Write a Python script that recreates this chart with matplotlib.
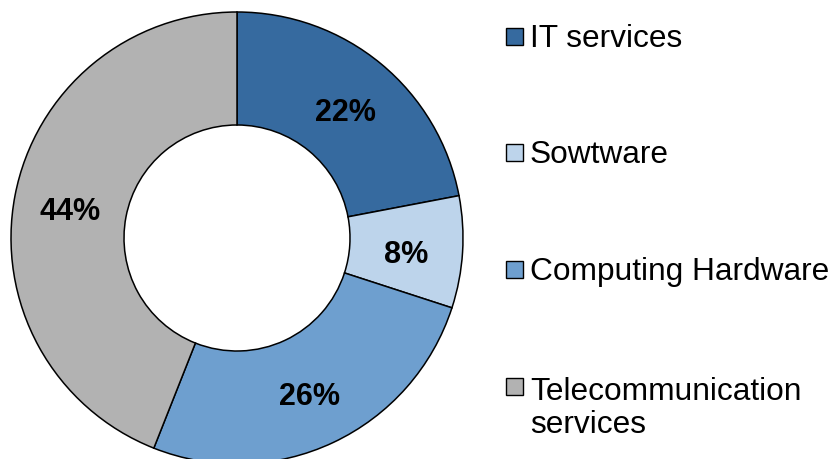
import matplotlib
matplotlib.use('Agg')
import matplotlib.pyplot as plt
import matplotlib.transforms as mtransforms
from matplotlib.patches import Rectangle

plt.rcParams['font.family'] = ['Liberation Sans', 'DejaVu Sans']

# data
categories = ['IT services', 'Sowtware', 'Computing Hardware',
              'Telecommunication\nservices']
shares = [22, 8, 26, 44]
colours = ['#366A9F', '#BDD4EB', '#6E9FCF', '#B2B2B2']

W, H = 835, 459
fig = plt.figure(figsize=(W / 100, H / 100), dpi=100)

# pie centre at (237, 238) px from top-left, outer radius 226 px
cx, cy, r = 237, 238, 226
ax = fig.add_axes([(cx - r) / W, (H - cy - r) / H, 2 * r / W, 2 * r / H])
wedges, texts, autotexts = ax.pie(
    shares, colors=colours, startangle=90, counterclock=False,
    radius=1, autopct='%1.0f%%', pctdistance=0.75,
    wedgeprops=dict(width=0.5, edgecolor='black', linewidth=1.1),
    textprops=dict(fontsize=22, fontweight='bold', color='black'))
ax.set_xlim(-1, 1)
ax.set_ylim(-1, 1)
ax.axis('off')

# labels sit a little lower in the original
shift = mtransforms.ScaledTranslation(0, -6 / 100, fig.dpi_scale_trans)
for t in autotexts:
    t.set_transform(t.get_transform() + shift)

# hand-made legend, rows located by first-line baseline (px from top)
baselines = [46.7, 163, 280, 397]
line_h = 36
box_x, box_s, text_x = 506, 17, 530
for lab, col, yb in zip(categories, colours, baselines):
    fig.patches.append(Rectangle(
        (box_x / W, (H - yb + 2) / H), box_s / W, box_s / H,
        transform=fig.transFigure, facecolor=col, edgecolor='black',
        linewidth=1.0))
    # matplotlib puts the baseline of a multi-line text on its last line
    y_last = yb + line_h * lab.count('\n')
    fig.text(text_x / W, (H - y_last) / H, lab, fontsize=22.8,
             va='baseline', ha='left', color='black', linespacing=1.15)

fig.savefig('out.png', dpi=100)
